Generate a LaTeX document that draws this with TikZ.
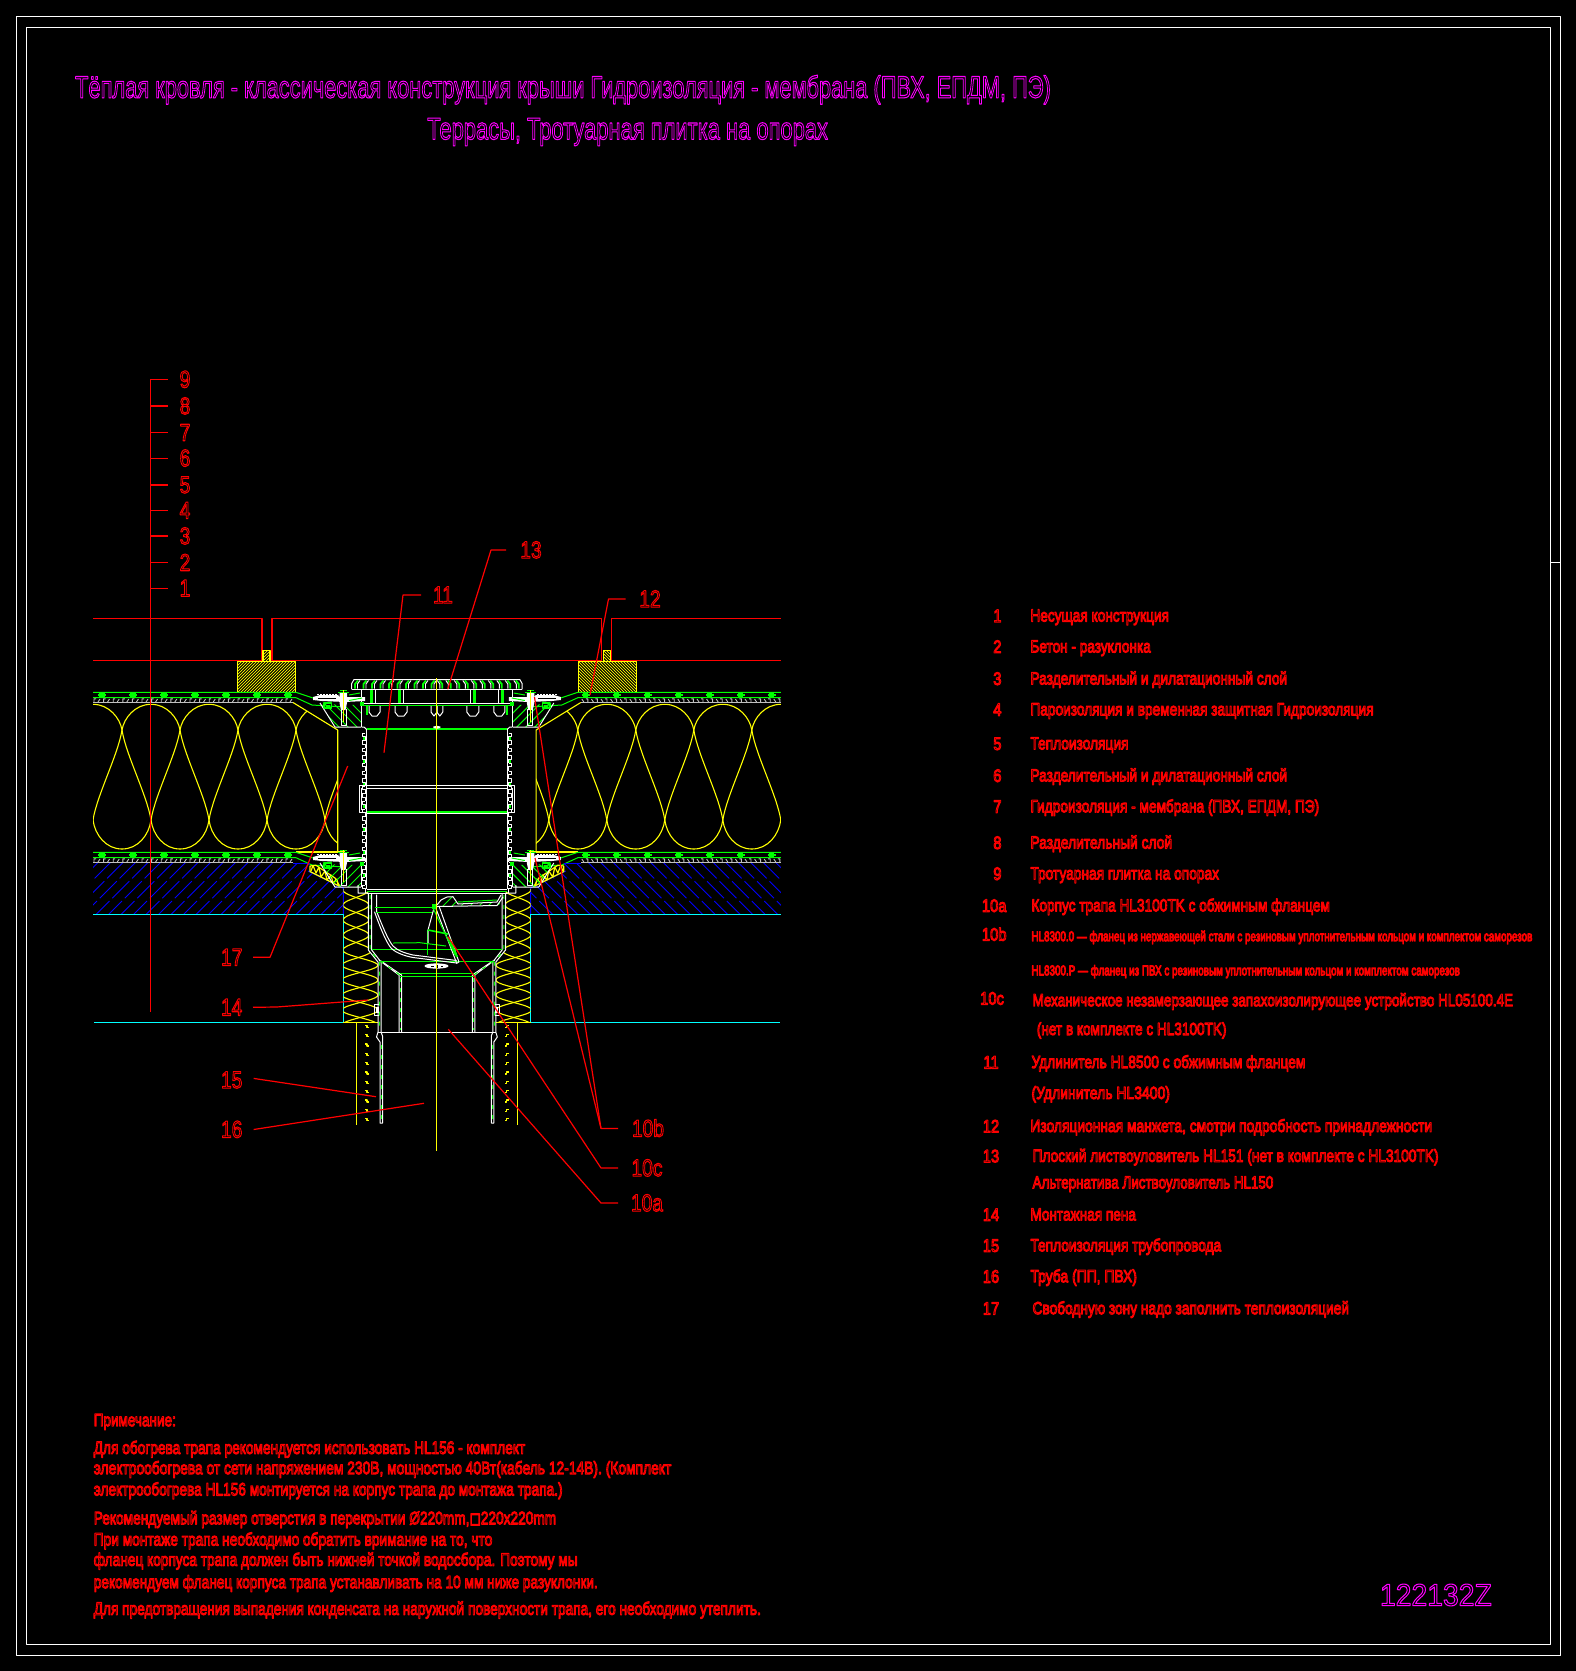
\documentclass[tikz,border=0pt]{standalone}
\usepackage{fontspec}
\usepackage{graphicx}
\setmainfont{Liberation Sans}
\newfontfamily\dejavuf{DejaVu Sans}
\newcounter{tn}
\definecolor{cadg}{RGB}{0,255,0}
\definecolor{cady}{RGB}{255,255,0}
\definecolor{cadr}{RGB}{255,0,0}
\definecolor{cadc}{RGB}{0,255,255}
\definecolor{cadb}{RGB}{0,0,255}
\definecolor{cadm}{RGB}{255,0,255}
\definecolor{cadgray}{RGB}{192,192,192}
\tikzset{
  wl/.style={draw=white,line width=1pt},
  gl/.style={draw=cadg,line width=1pt},
  ggl/.style={draw=cadg,line width=2pt},
  yl/.style={draw=cady,line width=1.1pt},
  cl/.style={draw=cadc,line width=1.1pt},
  bl/.style={draw=cadb,line width=1pt},
  rl/.style={draw=cadr,line width=1.2pt},
  gd/.style={draw=cadg,line width=1pt,dash pattern=on 4pt off 6pt},
  hatchb/.style={draw=cadb,line width=.9pt,dash pattern=on 24pt off 4pt},
  frameline/.style={draw=white,line width=1pt},
  txt/.style={inner sep=0pt,outer sep=0pt}
}
\newcommand\hollowt[1]{\special{pdf:code 1 Tr 1.05 w}#1\special{pdf:code 0 Tr}}
% free text in displayed coordinates: x, y centre, x end, size, colour, text
\newcommand\tx[6]{\stepcounter{tn}%
  \pgfmathsetmacro\tw{(#3-#1)*1.0656}\pgfmathsetmacro\ty{-0.32*#4}%
  \node[txt,anchor=base west,text=#5,yshift=\ty pt] (t\thetn) at (#1,#2)
   {\resizebox{\tw pt}{\height}{\fontsize{#4}{#4}\selectfont\hollowt{#6}}};}
% centred number: x, y, size, xscale, text, name
\newcommand\nm[6]{\pgfmathsetmacro\ty{-0.34*#3}%
  \node[txt,anchor=base,text=cadr,yshift=\ty pt] (#6) at (#1,#2)
   {\scalebox{#4}[1]{\fontsize{#3}{#3}\selectfont\hollowt{#5}}};}
\newcommand\membrane[1]{\begin{scope}[shift={(0,#1)}]
  \draw[gl] (93,692.3)--(296,692.3)--(316,699)--(332,701);
  \draw[gl] (93,697.7)--(296,697.7)--(312,705)--(345,707);
  \draw[draw=cadgray,line width=1.2pt] (93,702.3)--(293,702.3);
  \foreach \k in {0,...,20}{\draw[draw=cadgray,line width=.9pt] ({96+\k*9.6},698.8)--({94+\k*9.6},698.8)--({94+\k*9.6},702)
     ({100+\k*9.6},699)--({98+\k*9.6},702);}
  \foreach \k in {0,...,6}{\fill[cadg] ({102+\k*31-2.6},692.5) rectangle ({102+\k*31+2.6},697.5);
     \fill[cadg] ({102+\k*31-4},694) rectangle ({102+\k*31+4},696);}
\end{scope}}
\newcommand\flange[2]{\begin{scope}[shift={(0,#1)}]
  \begin{scope}\clip (321,704)--(335,727)--(361,727)--(361,705)--cycle;
    \foreach \k in {-7,...,10}{\draw[gl] ({330+\k*9},700)--++({#2*30},30);}
  \end{scope}
  \draw[wl] (320,703)--(335,727)--(361,727);
  \draw[wl] (361,705)--(361,727);
  \fill[white] (313,697)--(320,695)--(338,695)--(340,697)--(365,697)--(365,701)--(345,702)--(322,701)--(313,700)--cycle;
  \fill[black] (318,697.5) rectangle (336,699);
  \draw[wl,dash pattern=on 2pt off 1pt] (317,694.5)--(338,694.5);
  \fill[white] (339.5,692.5)--(347,692.5)--(347,703)--(345.5,710)--(341,710)--(339.5,703)--cycle;
  \draw[wl] (341,709)--(341,725)--(346,725)--(346,709);
  \draw[draw=cadg,line width=1.6pt] (338,692.5)--(349,692.5);
  \draw[gl] (340,690.3)--(347,690.3);
  \draw[yl] (343.3,690)--(343.3,722);
  \draw[draw=cadg,line width=1.5pt] (324,703)rectangle(331.5,708);
  \fill[cadg] (325.5,704.5) rectangle (330,707);
  \draw[gl] (349,700.5)--(362,698) (349,695)--(360,693);
  \fill[cadg] (359.5,702)rectangle(364,706);
\end{scope}}
\newcommand\drainhalf{%
  % red layer lines
  \draw[rl] (93,618.3)--(262,618.3)--(262,660.3)--(93,660.3);
  \draw[rl] (437,618.3)--(272,618.3)--(272,660.3)--(437,660.3);
  % tile with support
  \begin{scope}\clip (237.3,661.5) rectangle (295.7,692.5) (263,650) rectangle (270,661.5);
    \foreach \k in {0,...,42}{\draw[draw=cady,line width=.7pt] ({190+\k*3},695)--++(50,-50);}
  \end{scope}
  \draw[draw=cady,line width=1.2pt] (237.3,661.5) rectangle (295.7,692.5);
  \draw[draw=cady,line width=1.2pt] (263,661.5)--(263,650.3)--(270,650.3)--(270,661.5);
  % thermal insulation board
  \begin{scope}\clip (93,702)--(293,702)--(337.7,730)--(337.7,852)--(93,852)--cycle;
    \foreach \p in {35,93,151,209,267,325,383}{
      \draw[yl] (\p,704.3) .. controls ({\p-16},704.3) and ({\p-27},718) .. ({\p-29},730)
        .. controls ({\p-33},755) and ({\p-54},795) .. ({\p-58},820)
        .. controls ({\p-60},835) and ({\p-71},849) .. ({\p-87},849);
      \draw[yl] (\p,704.3) .. controls ({\p+16},704.3) and ({\p+27},718) .. ({\p+29},730)
        .. controls ({\p+33},755) and ({\p+54},795) .. ({\p+58},820)
        .. controls ({\p+60},835) and ({\p+71},849) .. ({\p+87},849);
    }
  \end{scope}
  \draw[yl] (293,702.5)--(337.7,730)--(337.7,852);
  \draw[yl] (296,852)--(345,852);
  % membranes
  \membrane{0}\membrane{160}
  % concrete with hatching
  \begin{scope}\clip (93,863)--(310,863)--(310,872)--(343.3,888)--(343.3,914)--(93,914)--cycle;
    \foreach \k in {0,...,26}{\draw[hatchb] ({30+\k*12.5},918)--++(62,-62);}
  \end{scope}
  \draw[bl] (293,863)--(310,863);
  \draw[bl] (308,871)--(343.3,888)--(343.3,914);
  % yellow wedge
  \draw[draw=cady,line width=1.2pt] (310,866)--(316,865.3)--(335,878)--(340,886.5)--(310,871.5)--cycle;
  \draw[draw=cady,line width=1.2pt] (311,871)--(313,865.5)--(316,873)--(319,867)--(321,877)--(325,871)--(327,880)--(331,875)--(333,883)--(337,879)--(338,885);
  % cyan
  \draw[cl] (93,914.3)--(343.3,914.3)--(343.3,1022.3)--(94,1022.3);
  % lower insulation
  \begin{scope}\clip (343.3,889)--(368,889)--(368,950)--(378,962)--(378,1022.3)--(343.3,1022.3)--cycle;
    \draw[yl] plot[domain=889:1023,samples=90,smooth] ({356+4*min(max((\x-945)/20,0),1)+(13+5*min(max((\x-945)/20,0),1))*cos(12*(\x-890))},\x);
    \draw[yl] plot[domain=889:1023,samples=90,smooth] ({356+4*min(max((\x-945)/20,0),1)-(13+5*min(max((\x-945)/20,0),1))*cos(12*(\x-890))},\x);
  \end{scope}
  \draw[yl] (343.3,1022.3)--(378,1022.3);
  % pipe insulation
  \draw[yl] (356.7,1022.3)--(356.7,1125);
  \foreach \k in {0,...,10}{\draw[draw=cady,line width=1.3pt] ({365},{1025.5+\k*9.3})--(367,{1025.5+\k*9.3})--(367,{1027.5+\k*9.3})--(369,{1027.5+\k*9.3});}
  % upper extension
  \draw[wl] (366.7,729)--(366.7,889);
  \foreach \k in {0,...,20}{\draw[wl] (365,{733+\k*7.6})--(362,{733+\k*7.6})--(362,{736.5+\k*7.6})--(365,{736.5+\k*7.6})--(365,{740.6+\k*7.6});}
  \foreach \k in {0,3,...,20}{\fill[cadg] (362.5,{737+\k*7.6}) rectangle (365,{740+\k*7.6});}
  \draw[wl] (366,785.7)--(359,785.7)--(359,812.7)--(366,812.7);
  \draw[wl] (361,788)--(361,810);
  \draw[wl] (366.7,785.7)--(437,785.7) (366.7,788)--(437,788);
  \draw[wl] (366.7,813)--(437,813);
  \draw[ggl] (366.7,811.5)--(437,811.5);
  \draw[ggl] (366.7,729)--(437,729);
  \draw[wl] (361.5,727)--(364,727)--(366.7,729.5);
  % top grate
  \draw[wl] (351.7,689.3)--(351.7,683.5)--(354,679.5)--(437,679.5);
  \draw[wl] (351.7,689.3)--(437,689.3);
  \foreach \k in {0,...,9}{
    \draw[draw=cadg,line width=1.8pt] ({355+\k*8.5},688.5)--({355+\k*8.5},684)--({358+\k*8.5},680.5);
    \draw[wl,line width=.9pt] ({357.5+\k*8.5},688.5)--({357.5+\k*8.5},684)--({360+\k*8.5},680.5);}
  \draw[wl] (361.7,689.3)--(361.7,727);
  \draw[draw=cadg,line width=2.6pt] (371.5,689.5)--(371.5,703) (399.3,689.5)--(399.3,703);
  \draw[wl] (375,689.5)--(375,703) (403,689.5)--(403,703);
  \draw[wl,line width=1.5pt] (361.7,703.3)--(437,703.3);
  \draw[gl] (361.7,705.5)--(437,705.5);
  \foreach \a/\b in {369/380,395/407,431/437}{\draw[wl] (\a,706)--(\a,712)--({\a+3},716)--({\b-3},716)--(\b,712)--(\b,706);}
  \draw[draw=cadg,line width=1.6pt] (367,706)--(367,715);
  % flanges
  \flange{0}{1}\flange{160}{-1}
  % lower body walls
  \draw[wl] (358,885)--(358,893)--(368.3,893)--(368.3,950)--(378,962)--(378,1032)--(376.5,1037)--(380,1042)--(380,1123)--(382.5,1123)--(382.5,1036)--(381,1032)--(381,962)--(371.7,950)--(371.7,893);
  \draw[gd] (370,895)--(370,950)--(379.5,962)--(379.5,1030);
  \draw[gd] (381.2,1045)--(381.2,1122);
  \draw[wl] (379,960)--(399,975)--(399,1032);
  \draw[wl] (381,961)--(401.5,975)--(401.5,1032);
  \draw[gd] (400.2,978)--(400.2,1030);
  \draw[gd] (380,961)--(400,975);
  \draw[wl] (378,1032)--(437,1032);
  % plate at bottom of extension
  \draw[wl] (366.7,889)--(437,889) (366.7,893.5)--(437,893.5);
  \draw[draw=cadg,line width=1.3pt] (366.7,891.2)--(437,891.2);
  % clip
  \draw[wl] (379,1004)--(374,1004)--(374,1015)--(379,1015);
  \fill[white] (376,1007) rectangle (379,1013);
  % horizontal green lines
  \draw[gl] (372,949.3)--(437,949.3) (380,961.7)--(437,961.7) (400,973)--(437,973) (400,976.7)--(437,976.7);
}
\begin{document}
\begin{tikzpicture}[x=1pt,y=-1pt,line join=round]
\useasboundingbox (0,0) rectangle (1576,1671);
\fill[black] (0,0) rectangle (1576,1671);
% frames
\draw[frameline] (16.5,16.5) rectangle (1560.7,1655.3);
\draw[frameline] (26.5,27.5) rectangle (1550.7,1644.3);
\draw[frameline] (1550.7,562.3)--(1560.7,562.3);
% mirrored drawing
\drainhalf
\begin{scope}[cm={-1,0,0,1,(873.8pt,0pt)}]
  \drainhalf
\end{scope}
\fill[white] (433.4,726.5) -- (436.9,725.8) -- (440.4,726.5) -- (440.4,728) -- (436.9,728.8) -- (433.4,728) -- cycle;
% trap interior
\draw[wl] (376.7,894.5)--(376.7,911.7) .. controls (382,925) and (388,940) .. (393,946) .. controls (398,951) and (405,953) .. (413,955) -- (456.7,960.5);
\draw[wl] (374.5,911.7) .. controls (380,927) and (386,942) .. (391,948) .. controls (396,953) and (405,956) .. (413,957.5) -- (456.7,963);
\draw[gl] (375,907)--(433,907) (376,912)--(433,912);
\draw[gl] (393,943)--(420,942.7)--(446,946);
\draw[gl] (427,930)--(427,955);
\draw[wl] (435,906)--(456.7,963.3)--(459,962)--(439,906);
\draw[wl] (434,908)--(428,930)--(428,943);
\draw[draw=cadg,line width=1.6pt] (428,930)--(448,934);
\draw[draw=cadg,line width=2pt] (449,938)--(457,957);
\draw[gl] (433,908)--(455,955);
\fill[cadg] (432,904) rectangle (437,909);
\begin{scope}\clip (437,905)--(441,900)--(447,897)--(453,896.7)--(458,904)--(497,902)--(500,895)--(500,905)--(437,906)--cycle;
 \foreach \k in {0,...,8}{\draw[gl] ({430+\k*9},910)--++(18,-18);}
\end{scope}
\draw[wl] (437,905)--(441,900)--(447,897)--(453,896.7)--(458,904)--(497,902)--(501,895);
\draw[wl] (437,906.5)--(497,905.5)--(503,897);
\draw[gl] (458,902)--(497,900);
\fill[white] (424.5,966) .. controls (424.5,962.5) and (448.5,962.5) .. (448.5,966) .. controls (448.5,969.5) and (424.5,969.5) .. (424.5,966) -- cycle;
\draw[draw=black,line width=1pt] (431,966)--(434,966) (437,964.5)--(437,967.5) (441,966)--(443,966);
% axis
\draw[yl] (436.7,678)--(436.7,1151);

% red scale and labels
\draw[rl] (150.3,379.4)--(150.3,1011.7);
\foreach \n/\y in {9/379.4,8/406,7/432.6,6/458.2,5/484.9,4/510.4,3/536,2/562.6,1/588.2}{
  \coordinate (sc\n) at (150.3,\y);
  \nm{185}{\y}{24}{.8}{\n}{lb\n}
  \coordinate (st\n) at (168,\y);
  \draw[rl] (sc\n)--(st\n);
}
\nm{531}{550}{24}{.8}{13}{l13}
\nm{443}{595}{24}{.8}{11}{l11}
\nm{650}{599}{24}{.8}{12}{l12}
\nm{231.7}{957.3}{24}{.8}{17}{l17}
\nm{231.7}{1007.3}{24}{.8}{14}{l14}
\nm{231.7}{1080}{24}{.8}{15}{l15}
\nm{231.7}{1129.5}{24}{.8}{16}{l16}
\nm{648}{1128.5}{24}{.8}{10b}{l10b}
\nm{647}{1168}{24}{.8}{10c}{l10c}
\nm{647}{1203}{24}{.8}{10a}{l10a}
\coordinate (e13) at (447.7,689.3);
\coordinate (e11) at (384,752.7);
\coordinate (e12) at (590,695);
\coordinate (e17) at (347.7,766);
\coordinate (e14) at (368,1000);
\coordinate (e15) at (376,1096.7);
\coordinate (e16) at (424,1103.3);
\coordinate (e10ba) at (534.5,697);
\coordinate (e10bb) at (535,858);
\coordinate (e10c) at (448,936.7);
\coordinate (e10a) at (448.3,1029.3);
\draw[rl] (506,550)--(491,550)--(e13);
\draw[rl] (421,595)--(403,595)--(e11);
\draw[rl] (625.5,599)--(608.5,599)--(e12);
\draw[rl] (253,957.3)--(270,957.3)--(e17);
\draw[rl] (253,1007.3)--(276.7,1007)--(e14);
\draw[rl] (253.6,1078.4)--(e15);
\draw[rl] (253.6,1129.5)--(e16);
\draw[rl] (618,1128.5)--(601,1128.5)--(e10ba);
\draw[rl] (601,1128.5)--(e10bb);
\draw[rl] (618,1168)--(601,1168)--(e10c);
\draw[rl] (618,1203)--(601,1203)--(e10a);

% texts in displayed coordinates
\begin{scope}[x=1.0656pt,y=-1.0656pt]
\tx{70.5}{82.5}{986}{31}{cadm}{Тёплая кровля - классическая конструкция крыши Гидроизоляция - мембрана (ПВХ, ЕПДМ, ПЭ)}
\tx{401}{121.5}{777}{31}{cadm}{Террасы, Тротуарная плитка на опорах}
\tx{1295}{1497.5}{1400}{31}{cadm}{122132Z}
\foreach \n/\xx/\yy in {1/936/578,2/936/607,3/936/637,4/936/666,5/936/698,6/936/728,7/936/757,8/936/791,9/936/820,10a/933/850,10b/933/877,10c/931/937,11/930/997,12/930/1057,13/930/1085,14/930/1140,15/930/1169,16/930/1198,17/930/1228}{
  \nm{\xx}{\yy}{18}{.82}{\n}{n\n}
}
\tx{967}{578}{1097}{17.5}{cadr}{Несущая конструкция}
\tx{967}{607}{1080}{17.5}{cadr}{Бетон - разуклонка}
\tx{967}{637}{1208}{17.5}{cadr}{Разделительный и дилатационный слой}
\tx{967}{666}{1289}{17.5}{cadr}{Пароизоляция и временная защитная Гидроизоляция}
\tx{967}{698}{1059}{17.5}{cadr}{Теплоизоляция}
\tx{967}{728}{1208}{17.5}{cadr}{Разделительный и дилатационный слой}
\tx{967}{757}{1238}{17.5}{cadr}{Гидроизоляция - мембрана (ПВХ, ЕПДМ, ПЭ)}
\tx{967}{791}{1100}{17.5}{cadr}{Разделительный слой}
\tx{967}{820}{1144}{17.5}{cadr}{Тротуарная плитка на опорах}
\tx{968}{850}{1248}{17.5}{cadr}{Корпус трапа HL3100TK с обжимным фланцем}
\tx{968}{879}{1438}{14}{cadr}{HL8300.0 — фланец из нержавеющей стали с резиновым уплотнительным кольцом и комплектом саморезов}
\tx{968}{911}{1370}{14}{cadr}{HL8300.P — фланец из ПВХ с резиновым уплотнительным кольцом и комплектом саморезов}
\tx{969}{939}{1420}{17.5}{cadr}{Механическое незамерзающее запахоизолирующее устройство HL05100.4E}
\tx{973}{966}{1151}{17.5}{cadr}{(нет в комплекте с HL3100TK)}
\tx{968}{997}{1225}{17.5}{cadr}{Удлинитель HL8500 с обжимным фланцем}
\tx{968}{1026}{1098}{17.5}{cadr}{(Удлинитель HL3400)}
\tx{967}{1057}{1344}{17.5}{cadr}{Изоляционная манжета, смотри подробность принадлежности}
\tx{969}{1085}{1350}{17.5}{cadr}{Плоский листвоуловитель HL151 (нет в комплекте с HL3100TK)}
\tx{969}{1110}{1195}{17.5}{cadr}{Альтернатива Листвоуловитель HL150}
\tx{967}{1140}{1066}{17.5}{cadr}{Монтажная пена}
\tx{967}{1169}{1146}{17.5}{cadr}{Теплоизоляция трубопровода}
\tx{967}{1198}{1067}{17.5}{cadr}{Труба (ПП, ПВХ)}
\tx{969}{1228}{1266}{17.5}{cadr}{Свободную зону надо заполнить теплоизоляцией}
\tx{88}{1333}{165}{18}{cadr}{Примечание:}
\tx{88}{1359}{493}{18}{cadr}{Для обогрева трапа рекомендуется использовать HL156 - комплект}
\tx{88}{1378}{630}{18}{cadr}{электрообогрева от сети напряжением 230В, мощностью 40Вт(кабель 12-14В). (Комплект}
\tx{88}{1398}{528}{18}{cadr}{электрообогрева HL156 монтируется на корпус трапа до монтажа трапа.)}
\tx{88}{1425}{522}{18}{cadr}{Рекомендуемый размер отверстия в перекрытии Ø220mm,{\dejavuf ◻}220x220mm}
\tx{88}{1445}{462}{18}{cadr}{При монтаже трапа необходимо обратить вримание на то, что}
\tx{88}{1464}{542}{18}{cadr}{фланец корпуса трапа должен быть нижней точкой водосбора. Поэтому мы}
\tx{88}{1485}{561}{18}{cadr}{рекомендуем фланец корпуса трапа устанавливать на 10 мм ниже разуклонки.}
\tx{88}{1510}{714}{18}{cadr}{Для предотвращения выпадения конденсата на наружной поверхности трапа, его необходимо утеплить.}
\end{scope}
\end{tikzpicture}
\end{document}
